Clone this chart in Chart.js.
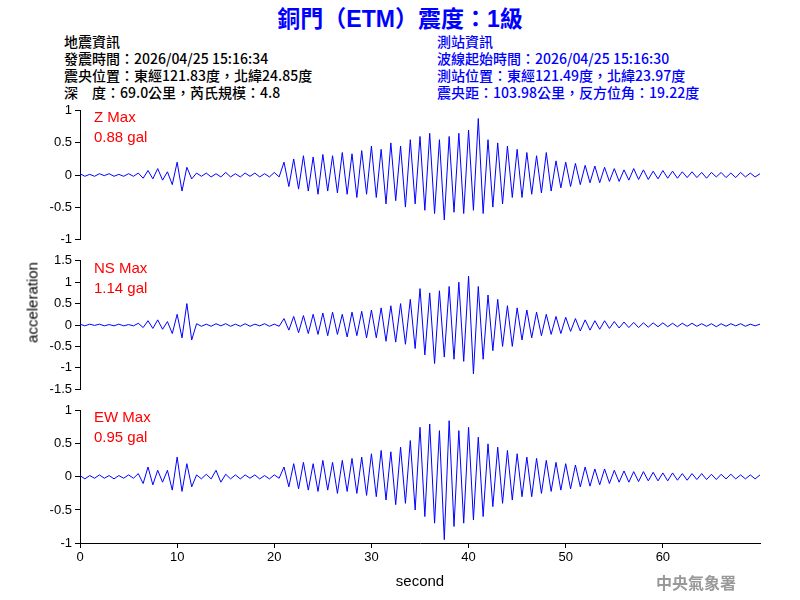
<!DOCTYPE html>
<html><head><meta charset="utf-8">
<script src="https://cdn.jsdelivr.net/npm/chart.js@4"></script>
<style>
body{margin:0;width:800px;height:600px;background:#fff;position:relative;overflow:hidden;font-family:"Noto Sans CJK TC",sans-serif}
.box{position:absolute;left:0;width:800px}
.t{position:absolute;white-space:nowrap}
.hd{font-size:14px;line-height:17px;font-family:"Noto Sans CJK TC",sans-serif;font-weight:500}
.mx{position:absolute;left:94px;color:#f00;font:15px "Liberation Sans",Arial;line-height:20px}
</style></head><body>
<div class="t" style="left:0;width:800px;top:0px;text-align:center;color:#0000ff;font-weight:bold;font-size:23px">銅門（<span style="font-family:'Liberation Sans'">ETM</span>）震度：<span style="font-family:'Liberation Sans'">1</span>級</div>
<div class="t hd" style="left:64px;top:33px;color:#000">地震資訊<br>發震時間：2026/04/25 15:16:34<br>震央位置：東經121.83度，北緯24.85度<br>深　度：69.0公里，芮氏規模：4.8</div>
<div class="t hd" style="left:437px;top:33px;color:#0000ff">測站資訊<br>波線起始時間：2026/04/25 15:16:30<br>測站位置：東經121.49度，北緯23.97度<br>震央距：103.98公里，反方位角：19.22度</div>
<div class="box" style="top:100px;height:150px"><canvas id="c1"></canvas></div>
<div class="box" style="top:250px;height:150px"><canvas id="c2"></canvas></div>
<div class="box" style="top:400px;height:200px"><canvas id="c3"></canvas></div>
<div class="mx" style="top:107px">Z Max<br>0.88 gal</div>
<div class="mx" style="top:258px">NS Max<br>1.14 gal</div>
<div class="mx" style="top:407px">EW Max<br>0.95 gal</div>
<div class="t" style="left:-28px;top:294px;width:120px;text-align:center;transform:rotate(-90deg);font:15px 'Liberation Sans',Arial;color:#000">acceleration</div>
<div class="t" style="left:656px;top:570px;color:#999;font-weight:bold;font-size:16px;font-family:'Noto Sans CJK TC',serif">中央氣象署</div>
<script>
const SAMPLE_STEP = 0.5;
const xTicks = [0,10,20,30,40,50,60];
const zTicks = [-1,-0.5,0,0.5,1];
const nsTicks = [-1.5,-1,-0.5,0,0.5,1,1.5];
const ewTicks = [-1,-0.5,0,0.5,1];
const zValues = [0.02,-0.02,0.01,-0.02,0.02,-0.01,0.02,-0.02,0.01,-0.02,0.02,-0.02,
0.03,-0.05,0.07,-0.06,0.1,-0.08,
0.05,-0.15,0.2,-0.25,0.12,-0.06,
0.03,-0.02,0.03,-0.03,0.02,-0.03,0.04,-0.03,0.02,-0.03,0.03,-0.02,0.03,-0.03,0.02,-0.03,0.04,-0.03,
0.2,-0.18,0.25,-0.22,0.3,-0.25,0.28,-0.3,0.32,-0.25,0.3,-0.28,0.35,-0.3,0.33,-0.35,0.38,-0.3,
0.45,-0.35,0.4,-0.45,0.5,-0.4,0.45,-0.5,0.55,-0.45,
0.6,-0.55,0.65,-0.6,0.55,-0.7,0.6,-0.58,0.65,-0.6,0.7,-0.55,0.88,-0.6,
0.55,-0.5,0.5,-0.45,0.45,-0.35,0.4,-0.35,0.35,-0.3,0.3,-0.28,
0.35,-0.25,0.22,-0.2,0.2,-0.18,0.18,-0.15,0.15,-0.12,0.14,-0.12,0.12,-0.1,
0.1,-0.1,0.08,-0.08,0.1,-0.07,0.08,-0.07,0.06,-0.06,0.07,-0.05,0.06,-0.05,
0.05,-0.04,0.05,-0.04,0.04,-0.05,0.04,-0.03,0.04,-0.04,0.03,-0.04,0.04,-0.03,0.03,-0.03,0.02];
const nsValues = [0.02,-0.02,0.02,-0.01,0.02,-0.02,0.01,-0.02,0.02,-0.02,0.01,-0.02,
0.04,-0.06,0.1,-0.08,0.12,-0.1,
0.08,-0.2,0.25,-0.3,0.5,-0.35,
0.03,-0.03,0.02,-0.03,0.03,-0.02,0.03,-0.03,0.02,-0.03,0.03,-0.03,0.02,-0.02,0.03,-0.03,0.02,-0.03,
0.15,-0.12,0.2,-0.18,0.22,-0.2,0.25,-0.22,0.28,-0.25,0.3,-0.22,0.25,-0.28,0.3,-0.25,0.32,-0.3,
0.35,-0.3,0.4,-0.38,0.45,-0.4,0.5,-0.45,0.6,-0.55,
0.85,-0.7,0.75,-0.9,0.8,-0.75,0.9,-0.8,1.0,-0.85,1.14,-1.14,0.9,-0.8,
0.7,-0.6,0.6,-0.5,0.45,-0.5,0.4,-0.35,0.35,-0.3,0.3,-0.25,
0.25,-0.22,0.2,-0.2,0.18,-0.15,0.15,-0.14,0.12,-0.12,0.1,-0.1,0.1,-0.08,
0.08,-0.07,0.07,-0.06,0.06,-0.06,0.05,-0.05,0.05,-0.04,0.05,-0.04,0.04,-0.04,
0.04,-0.03,0.04,-0.03,0.03,-0.03,0.03,-0.04,0.03,-0.03,0.03,-0.02,0.03,-0.03,0.02,-0.02,0.02];
const ewValues = [0.02,-0.03,0.02,-0.02,0.03,-0.02,0.02,-0.03,0.02,-0.02,0.03,-0.02,
0.05,-0.1,0.15,-0.12,0.1,-0.08,
0.1,-0.2,0.3,-0.22,0.2,-0.15,
0.03,-0.03,0.04,-0.03,0.1,-0.08,0.04,-0.03,0.03,-0.03,0.03,-0.02,0.03,-0.03,0.02,-0.03,0.03,-0.02,
0.15,-0.15,0.2,-0.18,0.22,-0.2,0.2,-0.22,0.25,-0.2,0.22,-0.25,0.25,-0.22,0.28,-0.25,0.3,-0.28,
0.35,-0.3,0.4,-0.35,0.38,-0.42,0.45,-0.4,0.55,-0.5,
0.75,-0.6,0.8,-0.7,0.7,-0.95,0.85,-0.75,0.7,-0.7,0.75,-0.65,0.6,-0.6,
0.5,-0.45,0.45,-0.4,0.4,-0.35,0.35,-0.3,0.3,-0.3,0.28,-0.25,
0.25,-0.22,0.22,-0.2,0.2,-0.18,0.18,-0.15,0.15,-0.14,0.12,-0.12,0.12,-0.1,
0.1,-0.08,0.09,-0.08,0.08,-0.07,0.08,-0.06,0.07,-0.06,0.06,-0.06,0.06,-0.05,
0.05,-0.05,0.05,-0.04,0.05,-0.04,0.04,-0.04,0.04,-0.03,0.04,-0.03,0.03,-0.03,0.03,-0.03,0.03];

const font = {family:"'Liberation Sans', Arial", size:13};
function make(id, values, yTicks, showX){
  const pts = values.map((v,i)=>({x:i*SAMPLE_STEP, y:v}));
  const lim = yTicks[yTicks.length-1];
  new Chart(document.getElementById(id), {
    type:'line',
    data:{datasets:[{data:pts, borderColor:'#0000ff', borderWidth:1, pointRadius:0, tension:0}]},
    options:{
      responsive:true, maintainAspectRatio:false, animation:false, events:[],
      layout:{padding:{top:8, bottom: showX?5:7, left:0, right:40}},
      plugins:{legend:{display:false}, tooltip:{enabled:false}},
      scales:{
        x:{type:'linear', min:0, max:70, display:showX,
          afterBuildTicks:a=>{a.ticks = xTicks.map(v=>({value:v}));},
          afterFit:a=>{a.height = showX ? 52 : 0;},
          grid:{drawOnChartArea:false, color:'#000', tickLength:5},
          border:{color:'#000'},
          ticks:{color:'#000', font, padding:2, callback:v=>String(v)},
          title:{display:true, text:'second', color:'#000', font:{family:"'Liberation Sans', Arial", size:15}, padding:{top:2}}},
        y:{min:-lim, max:lim,
          afterBuildTicks:a=>{a.ticks = yTicks.map(v=>({value:v}));},
          afterFit:a=>{a.width=80;},
          grid:{drawOnChartArea:false, color:'#000', tickLength:5},
          border:{color:'#000'},
          ticks:{color:'#000', font, padding:3, callback:v=>String(v)}}
      }
    }
  });
}
make('c1', zValues, zTicks, false);
make('c2', nsValues, nsTicks, false);
make('c3', ewValues, ewTicks, true);
</script>
</body></html>
